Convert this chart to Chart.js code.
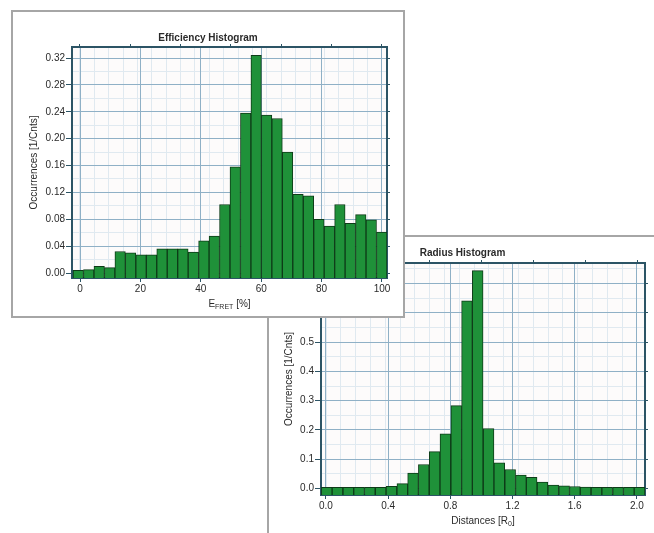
<!DOCTYPE html>
<html>
<head>
<meta charset="utf-8">
<title>Histograms</title>
<script src="https://cdn.jsdelivr.net/npm/chart.js"></script>
<style>
  body { margin: 0; width: 654px; height: 533px; overflow: hidden; position: relative; background: #fff; }
  .panel { position: absolute; background: #fff; }
  .panel canvas { display: block; }
  #effPanel { left: 11px; top: 10px; width: 390px; height: 304px; border: 2px solid #a6a6a6; z-index: 2; }
  #radPanel { left: 267px; top: 235px; width: 387px; height: 298px; border-left: 2px solid #a6a6a6; border-top: 2px solid #a6a6a6; z-index: 1; }
</style>
</head>
<body>
<div class="panel" id="radPanel"><canvas id="radChart" width="387" height="296"></canvas></div>
<div class="panel" id="effPanel"><canvas id="effChart" width="390" height="304"></canvas></div>
<script>
// FRET efficiency histogram: bin centres [%] and occurrences
const effCenters = [-0.57, 2.895, 6.36, 9.825, 13.29, 16.755, 20.22, 23.685, 27.15, 30.615,
                    34.08, 37.545, 41.01, 44.475, 47.94, 51.405, 54.87, 58.335, 61.8, 65.265,
                    68.73, 72.195, 75.66, 79.125, 82.59, 86.055, 89.52, 92.985, 96.45, 99.915];
const effValues  = [0.004, 0.005, 0.010, 0.008, 0.032, 0.030, 0.027, 0.027, 0.036, 0.036,
                    0.036, 0.031, 0.048, 0.055, 0.102, 0.158, 0.238, 0.324, 0.235, 0.230,
                    0.180, 0.117, 0.115, 0.080, 0.070, 0.102, 0.074, 0.087, 0.079, 0.061];
const effXTicks  = [0, 20, 40, 60, 80, 100];
const effYTicks  = [0, 0.04, 0.08, 0.12, 0.16, 0.20, 0.24, 0.28, 0.32];

// radius histogram: bin centres [R0] and occurrences
const radCenters = [0.005, 0.074, 0.144, 0.213, 0.282, 0.352, 0.421, 0.491, 0.560, 0.629,
                    0.699, 0.768, 0.838, 0.907, 0.976, 1.046, 1.115, 1.185, 1.254, 1.323,
                    1.393, 1.462, 1.532, 1.601, 1.670, 1.740, 1.809, 1.879, 1.948, 2.017];
const radValues  = [0.004, 0.004, 0.004, 0.004, 0.004, 0.004, 0.008, 0.017, 0.053, 0.082,
                    0.126, 0.187, 0.283, 0.641, 0.744, 0.205, 0.088, 0.065, 0.046, 0.038,
                    0.022, 0.012, 0.009, 0.007, 0.005, 0.004, 0.004, 0.004, 0.004, 0.004];
const radXTicks  = [0, 0.4, 0.8, 1.2, 1.6, 2.0];
const radYTicks  = [0, 0.1, 0.2, 0.3, 0.4, 0.5, 0.6, 0.7];

const FONT  = '"Liberation Sans", Arial, sans-serif';
const TEXT  = '#2a2a2a';
const FRAME = '#2c5465';
const MAJOR = '#8fb0c6';
const MINOR = '#e0e9f0';
const BAR   = '#1f9139';
const EDGE  = '#0e3b18';

// light fill behind the plot area
const plotBg = {
  id: 'plotBg',
  beforeDraw(chart) {
    const { ctx, chartArea: a } = chart;
    ctx.save();
    ctx.fillStyle = '#fdfbfb';
    ctx.fillRect(a.left, a.top, a.right - a.left, a.bottom - a.top);
    ctx.restore();
  }
};

// x axis caption with a subscript part
const subCaption = {
  id: 'subCaption',
  afterDraw(chart, args, o) {
    if (!o.main) return;
    const { ctx, chartArea: a } = chart;
    const big = '10px ' + FONT, small = '7px ' + FONT;
    ctx.save();
    ctx.fillStyle = TEXT;
    ctx.textBaseline = 'middle';
    ctx.font = big;
    const w1 = ctx.measureText(o.main).width, w3 = ctx.measureText(o.rest).width;
    ctx.font = small;
    const w2 = ctx.measureText(o.sub).width;
    let x = (a.left + a.right) / 2 - (w1 + w2 + w3) / 2;
    ctx.font = big;
    ctx.fillText(o.main, x, o.y);
    x += w1;
    ctx.font = small;
    ctx.fillText(o.sub, x, o.y + 3);
    x += w2;
    ctx.font = big;
    ctx.fillText(o.rest, x, o.y);
    ctx.restore();
  }
};

function histogram(id, o) {
  const useTicks = list => s => { s.ticks = list.map(v => ({ value: v })); };
  const frame = { display: true, color: FRAME, width: 2 };
  const tickFont = { family: FONT, size: 10 };
  const hidden = { display: false };
  return new Chart(document.getElementById(id), {
    type: 'bar',
    data: {
      datasets: [{
        xAxisID: 'x',
        yAxisID: 'y',
        data: o.centers.map((x, i) => ({ x: x, y: o.values[i] })),
        backgroundColor: BAR,
        borderColor: EDGE,
        borderWidth: 1,
        barPercentage: 1,
        categoryPercentage: 1,
        base: o.yMin
      }]
    },
    options: {
      responsive: false,
      animation: false,
      events: [],
      layout: { padding: 0 },
      plugins: {
        legend: hidden,
        tooltip: { enabled: false },
        title: {
          display: true, text: o.title, color: TEXT,
          font: { family: FONT, size: 10, weight: 'bold' },
          padding: { top: o.titleTop, bottom: 0 }
        },
        subCaption: o.caption
      },
      scales: {
        x: {
          type: 'linear', position: 'bottom', min: o.xMin, max: o.xMax, offset: false,
          afterBuildTicks: useTicks(o.xTicks),
          afterFit: s => { s.height = o.bottom; },
          grid: { color: MAJOR, tickColor: FRAME, tickLength: 4, offset: false },
          border: frame,
          ticks: { color: TEXT, font: tickFont, padding: 1, maxRotation: 0, autoSkip: false,
                   callback: v => v.toFixed(o.xDigits) }
        },
        y: {
          type: 'linear', position: 'left', min: o.yMin, max: o.yMax,
          afterBuildTicks: useTicks(o.yTicks),
          afterFit: s => { s.width = o.left; },
          grid: { color: MAJOR, tickColor: FRAME, tickLength: 6 },
          border: frame,
          ticks: { color: TEXT, font: tickFont, padding: 1, autoSkip: false,
                   callback: v => v.toFixed(o.yDigits) },
          title: { display: true, text: 'Occurrences [1/Cnts]', color: TEXT,
                   font: { family: FONT, size: 10 }, padding: { top: o.yTitlePad } }
        },
        // finer grid drawn underneath the major one
        xm: {
          type: 'linear', position: 'bottom', min: o.xMin, max: o.xMax,
          ticks: { display: false, stepSize: o.xMinor, includeBounds: false },
          grid: { color: MINOR, drawTicks: false, z: -2 },
          border: hidden,
          afterFit: s => { s.height = 0; }
        },
        ym: {
          type: 'linear', position: 'left', min: o.yMin, max: o.yMax,
          ticks: { display: false, stepSize: o.yMinor, includeBounds: false },
          grid: { color: MINOR, drawTicks: false, z: -2 },
          border: hidden,
          afterFit: s => { s.width = 0; }
        },
        // mirrored axes close the frame with tick marks
        x2: {
          type: 'linear', position: 'top', min: o.xMin, max: o.xMax,
          afterBuildTicks: useTicks(o.xTicks),
          afterFit: s => { s.height = o.top; },
          grid: { drawOnChartArea: false, tickColor: FRAME, tickLength: 3 },
          border: frame,
          ticks: { display: false }
        },
        y2: {
          type: 'linear', position: 'right', min: o.yMin, max: o.yMax,
          afterBuildTicks: useTicks(o.yTicks),
          afterFit: s => { s.width = o.right; },
          grid: { drawOnChartArea: false, tickColor: FRAME, tickLength: 3 },
          border: frame,
          ticks: { display: false }
        }
      }
    },
    plugins: [plotBg, subCaption]
  });
}

histogram('effChart', {
  title: 'Efficiency Histogram', titleTop: 20, top: 3,
  centers: effCenters, values: effValues, xTicks: effXTicks, yTicks: effYTicks,
  xMin: -2.65, xMax: 101.66, yMin: -0.0074, yMax: 0.3364,
  xMinor: 5, yMinor: 0.02, xDigits: 0, yDigits: 2,
  left: 59, right: 16, bottom: 38, yTitlePad: 15,
  caption: { main: 'E', sub: 'FRET', rest: ' [%]', y: 292 }
});

histogram('radChart', {
  title: 'Radius Histogram', titleTop: 10, top: 4,
  centers: radCenters, values: radValues, xTicks: radXTicks, yTicks: radYTicks,
  xMin: -0.032, xMax: 2.052, yMin: -0.022, yMax: 0.77,
  xMinor: 0.1, yMinor: 0.05, xDigits: 1, yDigits: 1,
  left: 52, right: 11, bottom: 38, yTitlePad: 14,
  caption: { main: 'Distances [R', sub: '0', rest: ']', y: 284 }
});
</script>
</body>
</html>
